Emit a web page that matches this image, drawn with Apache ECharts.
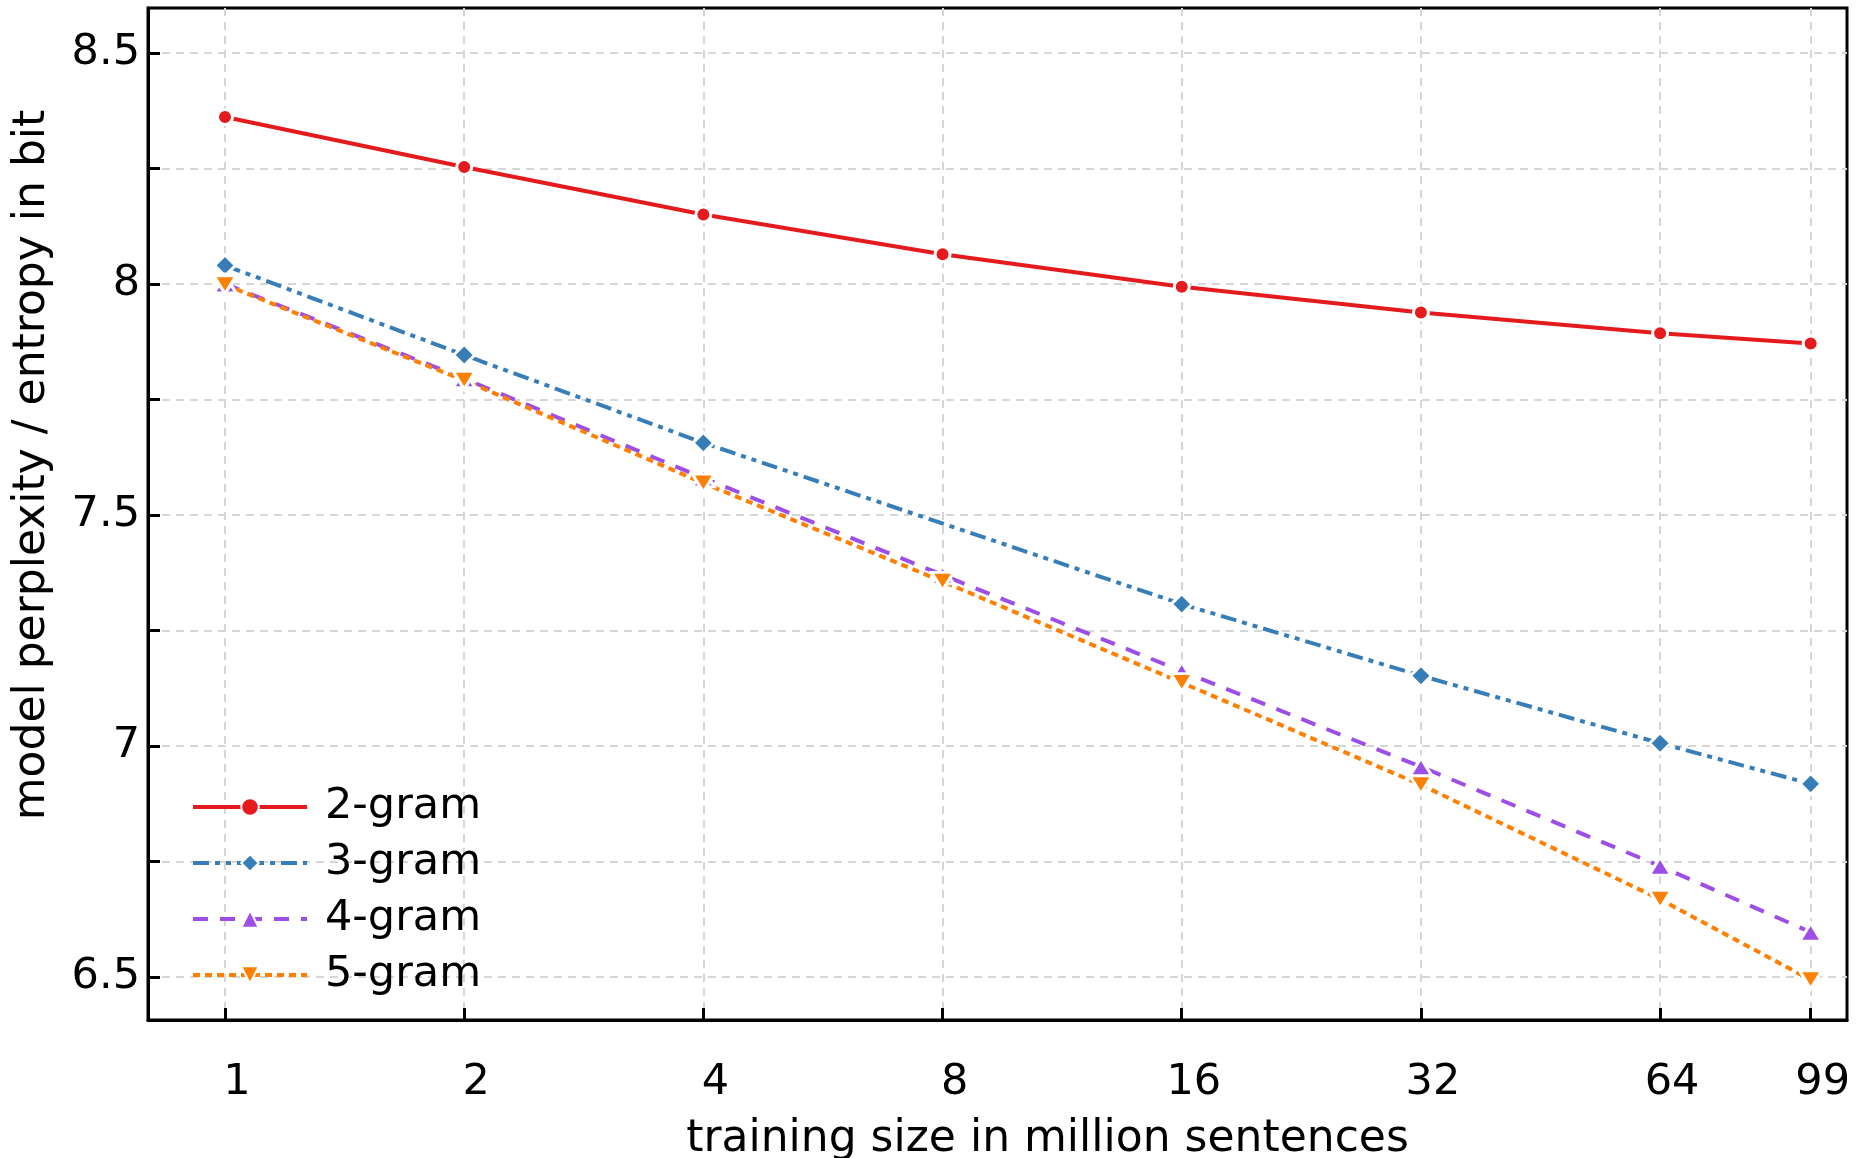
<!DOCTYPE html>
<html lang="en">
<head>
    <meta charset="UTF-8">
    <title>training size vs entropy</title>
    <script src="https://cdn.jsdelivr.net/npm/echarts@6/dist/echarts.min.js"></script>
    <style>
        html, body { margin: 0; padding: 0; background: #fff; }
    </style>
</head>
<body>
<div id="main" style="width: 1859px;height: 1158px;"></div>
<script>
    // training size (million sentences)
    var sizes = [1, 2, 4, 8, 16, 32, 64, 99];
    var xTicks = [1, 2, 4, 8, 16, 32, 64, 99];
    var yLabels = [6.5, 7, 7.5, 8, 8.5];
    var yGrid = [6.5, 6.75, 7, 7.25, 7.5, 7.75, 8, 8.25, 8.5];

    // entropy in bit (3-gram has no point at 8)
    var bigram   = [8.361, 8.253, 8.150, 8.064, 7.994, 7.938, 7.893, 7.871];
    var trigram  = [8.040, 7.846, 7.656, null, 7.307, 7.152, 7.006, 6.918];
    var fourgram = [8.000, 7.795, 7.580, 7.370, 7.162, 6.955, 6.740, 6.597];
    var fivegram = [7.998, 7.791, 7.569, 7.356, 7.137, 6.916, 6.668, 6.494];

    var font = 'DejaVu Sans';

    function pairs(ys) {
        var out = [];
        for (var i = 0; i < sizes.length; i++) {
            if (ys[i] !== null) out.push([sizes[i], ys[i]]);
        }
        return out;
    }

    function line(name, ys, color, dash, symbol, size, rotate) {
        return {
            name: name,
            type: 'line',
            data: pairs(ys),
            symbol: symbol,
            symbolSize: size,
            symbolRotate: rotate || 0,
            showAllSymbol: true,
            lineStyle: { color: color, width: 4, type: dash },
            itemStyle: { color: color, borderColor: '#fff', borderWidth: 3 },
            emphasis: { disabled: true },
            animation: false
        };
    }

    var myChart = echarts.init(document.getElementById('main'));

    var option = {
        backgroundColor: '#fff',
        grid: {
            left: 148,
            right: 12,
            top: 8,
            bottom: 138,
            outerBoundsMode: 'none',
            show: true,
            borderColor: '#000',
            borderWidth: 3,
            backgroundColor: 'transparent'
        },
        legend: {
            left: 186,
            top: 777,
            orient: 'vertical',
            itemWidth: 114,
            itemHeight: 22,
            itemGap: 6,
            lineStyle: { width: 4 },
            textStyle: {
                fontFamily: font,
                fontSize: 43,
                color: '#000',
                lineHeight: 50,
                padding: [0, 0, 0, 13]
            },
            data: ['2-gram', '3-gram', '4-gram', '5-gram']
        },
        xAxis: {
            type: 'log',
            logBase: 2,
            min: 0.8,
            max: 110,
            name: 'training size in million sentences',
            nameLocation: 'middle',
            nameGap: 98,
            nameTextStyle: {
                fontFamily: font, fontSize: 44, color: '#000',
                padding: [0, 0, 0, 100]
            },
            axisLine: { show: true, lineStyle: { color: '#000', width: 3 } },
            axisTick: {
                show: true, inside: true, length: 12,
                lineStyle: { color: '#000', width: 3 },
                customValues: xTicks
            },
            axisLabel: {
                fontFamily: font, fontSize: 43, color: '#000',
                margin: 41,
                padding: [0, 0, 0, 24],
                customValues: xTicks
            },
            splitLine: {
                show: true,
                lineStyle: { color: '#d6d6d6', width: 2, type: [8, 6] }
            }
        },
        yAxis: {
            type: 'value',
            min: 6.407,
            max: 8.597,
            name: 'model perplexity / entropy in bit',
            nameLocation: 'middle',
            nameGap: 93,
            nameTextStyle: {
                fontFamily: font, fontSize: 44, color: '#000',
                padding: [0, 0, 0, 98]
            },
            axisLine: { show: true, lineStyle: { color: '#000', width: 3 } },
            axisTick: {
                show: true, inside: true, length: 12,
                lineStyle: { color: '#000', width: 3 },
                customValues: yGrid
            },
            axisLabel: {
                fontFamily: font, fontSize: 43, color: '#000',
                margin: 8,
                customValues: yLabels
            },
            splitLine: {
                show: true,
                lineStyle: { color: '#d6d6d6', width: 2, type: [8, 6] }
            }
        },
        series: [
            line('2-gram', bigram, '#e41a1c', 'solid', 'circle', 15),
            line('3-gram', trigram, '#377eb8', [16, 6, 5, 6, 5, 6], 'diamond', 21),
            line('4-gram', fourgram, '#9d4ee6', [15, 12], 'triangle', [22, 18]),
            line('5-gram', fivegram, '#ff7f00', [7, 5], 'triangle', [22, 18], 180)
        ]
    };

    myChart.setOption(option, true);
</script>
</body>
</html>
